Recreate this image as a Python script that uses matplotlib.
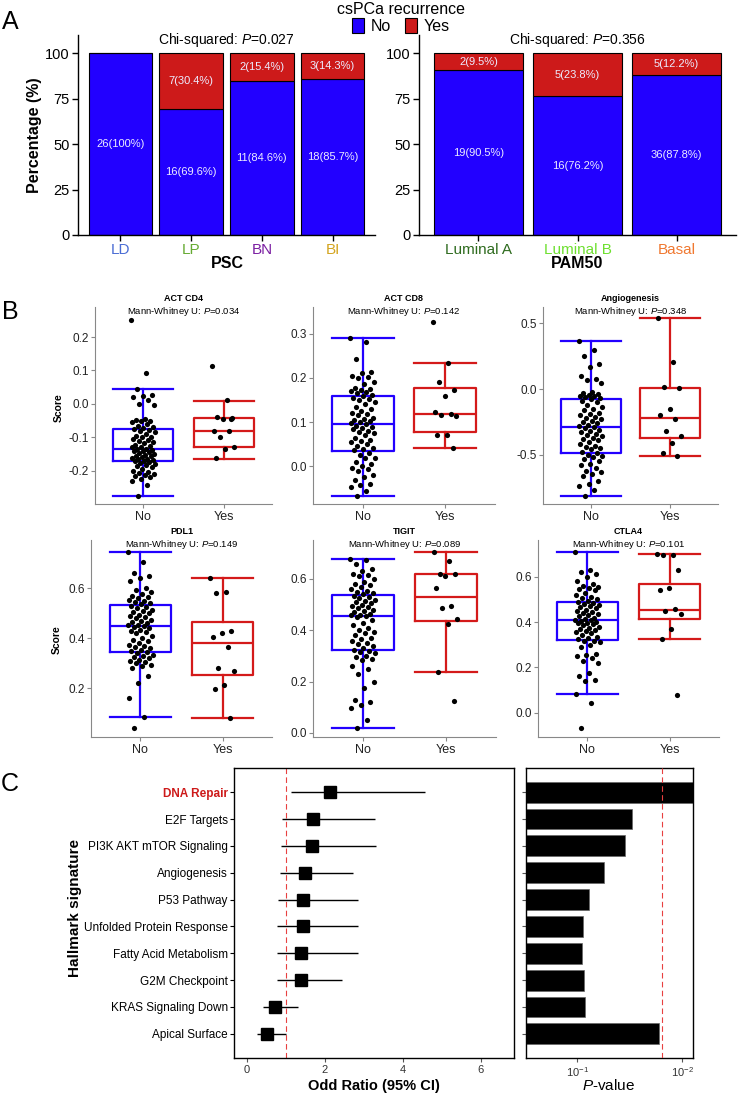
import numpy as np
import matplotlib
matplotlib.use('Agg')
import matplotlib.pyplot as plt
from matplotlib.patches import Patch
from matplotlib.ticker import NullLocator

plt.rcParams['font.family'] = ['Liberation Sans', 'DejaVu Sans']
plt.rcParams['mathtext.fontset'] = 'custom'
plt.rcParams['mathtext.rm'] = 'Liberation Sans'
plt.rcParams['mathtext.it'] = 'Liberation Sans:italic'
plt.rcParams['mathtext.bf'] = 'Liberation Sans:bold'
plt.rcParams['axes.unicode_minus'] = False

BLUE = '#2200ff'
RED = '#cd1a1a'

# ---------------- Panel A: counts by subtype ----------------
psc_groups = ['LD', 'LP', 'BN', 'BI']
psc_no = [26, 16, 11, 18]
psc_yes = [0, 7, 2, 3]
psc_colors = ['#4a6cd4', '#66aa33', '#7b1fa2', '#d4a520']
psc_p = 'Chi-squared: $P$=0.027'

pam_groups = ['Luminal A', 'Luminal B', 'Basal']
pam_no = [19, 16, 36]
pam_yes = [2, 5, 5]
pam_colors = ['#2e6b1e', '#6ee030', '#f07830']
pam_p = 'Chi-squared: $P$=0.356'

# ---------------- Panel B: scores (No n=71, Yes n=12) ----------------
# box stats: [lower whisker, Q1, median, Q3, upper whisker]
cd4_box_no = [-0.276, -0.172, -0.134, -0.074, 0.045]
cd4_box_yes = [-0.165, -0.130, -0.082, -0.043, 0.009]
cd4_no = [0.25, 0.092, 0.045, 0.025, 0.022, 0.02, 0.01, 0.0, -0.003, -0.045, -0.048, -0.05,
          -0.052, -0.055, -0.06, -0.065, -0.07, -0.072,
          -0.075, -0.078, -0.08, -0.085, -0.09, -0.095, -0.098, -0.1, -0.105, -0.108, -0.11,
          -0.115, -0.118, -0.122, -0.125, -0.128, -0.13, -0.134,
          -0.136, -0.138, -0.14, -0.142, -0.145, -0.147, -0.15, -0.152, -0.155, -0.157, -0.16,
          -0.162, -0.164, -0.166, -0.168, -0.17, -0.171,
          -0.175, -0.178, -0.18, -0.183, -0.186, -0.19, -0.195, -0.2, -0.205, -0.207, -0.21,
          -0.213, -0.215, -0.22, -0.225, -0.23, -0.242, -0.276]
cd4_yes = [0.112, 0.01, -0.04, -0.043, -0.045, -0.08, -0.082, -0.099, -0.13, -0.135, -0.163, -0.045]

cd8_box_no = [-0.067, 0.034, 0.095, 0.159, 0.290]
cd8_box_yes = [0.042, 0.077, 0.118, 0.176, 0.234]
cd8_no = [0.29, 0.28, 0.242, 0.213, 0.21, 0.205, 0.203, 0.2, 0.19, 0.185, 0.178, 0.175, 0.172,
          0.17, 0.168, 0.165, 0.162, 0.16,
          0.155, 0.152, 0.15, 0.145, 0.14, 0.135, 0.13, 0.125, 0.12, 0.118, 0.115, 0.11, 0.107,
          0.105, 0.102, 0.1, 0.098, 0.095,
          0.092, 0.09, 0.087, 0.085, 0.08, 0.078, 0.075, 0.07, 0.065, 0.06, 0.058, 0.055, 0.05,
          0.045, 0.042, 0.04, 0.037,
          0.03, 0.025, 0.02, 0.018, 0.01, 0.005, 0.0, -0.003, -0.005, -0.01, -0.02, -0.025,
          -0.03, -0.04, -0.043, -0.047, -0.055, -0.067]
cd8_yes = [0.326, 0.234, 0.19, 0.172, 0.158, 0.122, 0.118, 0.115, 0.114, 0.071, 0.07, 0.042]

ang_box_no = [-0.812, -0.487, -0.289, -0.079, 0.365]
ang_box_yes = [-0.513, -0.371, -0.218, 0.010, 0.543]
ang_no = [0.365, 0.3, 0.25, 0.19, 0.17, 0.1, 0.08, 0.07, 0.05, -0.02, -0.03, -0.04, -0.045,
          -0.05, -0.055, -0.06, -0.065, -0.075,
          -0.09, -0.1, -0.12, -0.14, -0.15, -0.16, -0.18, -0.19, -0.2, -0.21, -0.22, -0.23,
          -0.24, -0.25, -0.26, -0.27, -0.28, -0.289,
          -0.3, -0.31, -0.32, -0.33, -0.34, -0.35, -0.36, -0.37, -0.38, -0.39, -0.4, -0.42,
          -0.43, -0.44, -0.45, -0.46, -0.48,
          -0.49, -0.5, -0.51, -0.52, -0.53, -0.55, -0.57, -0.58, -0.6, -0.62, -0.63, -0.65,
          -0.66, -0.7, -0.72, -0.74, -0.77, -0.812]
ang_yes = [0.543, 0.206, 0.013, 0.005, -0.15, -0.198, -0.231, -0.32, -0.355, -0.414, -0.485, -0.513]

pdl1_box_no = [0.087, 0.347, 0.449, 0.535, 0.744]
pdl1_box_yes = [0.080, 0.255, 0.383, 0.467, 0.640]
pdl1_no = [0.744, 0.705, 0.66, 0.65, 0.64, 0.63, 0.6, 0.595, 0.585, 0.578, 0.57, 0.565, 0.56,
           0.555, 0.55, 0.545, 0.54, 0.537,
           0.53, 0.525, 0.52, 0.515, 0.51, 0.505, 0.5, 0.495, 0.49, 0.485, 0.48, 0.475, 0.47,
           0.465, 0.46, 0.455, 0.452, 0.449,
           0.445, 0.44, 0.435, 0.43, 0.425, 0.42, 0.41, 0.4, 0.395, 0.39, 0.38, 0.375, 0.37,
           0.365, 0.36, 0.355, 0.35,
           0.345, 0.34, 0.335, 0.33, 0.325, 0.32, 0.315, 0.31, 0.305, 0.3, 0.295, 0.29, 0.28,
           0.25, 0.22, 0.16, 0.087, 0.04]
pdl1_yes = [0.64, 0.585, 0.583, 0.428, 0.42, 0.405, 0.365, 0.283, 0.269, 0.213, 0.199, 0.08]

tigit_box_no = [0.018, 0.322, 0.456, 0.538, 0.677]
tigit_box_yes = [0.238, 0.435, 0.530, 0.619, 0.704]
tigit_no = [0.677, 0.675, 0.66, 0.64, 0.63, 0.62, 0.615, 0.61, 0.6, 0.59, 0.58, 0.575, 0.57,
            0.56, 0.555, 0.55, 0.545, 0.54,
            0.535, 0.53, 0.525, 0.52, 0.515, 0.51, 0.505, 0.5, 0.495, 0.49, 0.485, 0.48, 0.475,
            0.47, 0.465, 0.46, 0.458, 0.456,
            0.45, 0.44, 0.43, 0.42, 0.41, 0.4, 0.395, 0.39, 0.38, 0.37, 0.365, 0.36, 0.35,
            0.345, 0.34, 0.33, 0.325,
            0.32, 0.315, 0.31, 0.3, 0.295, 0.29, 0.285, 0.26, 0.25, 0.23, 0.2, 0.174, 0.128,
            0.122, 0.11, 0.096, 0.05, 0.018]
tigit_yes = [0.704, 0.671, 0.62, 0.618, 0.61, 0.566, 0.496, 0.488, 0.443, 0.426, 0.238, 0.126]

ctla4_box_no = [0.084, 0.320, 0.407, 0.490, 0.710]
ctla4_box_yes = [0.324, 0.415, 0.453, 0.566, 0.699]
ctla4_no = [0.71, 0.63, 0.62, 0.61, 0.6, 0.58, 0.57, 0.56, 0.555, 0.55, 0.545, 0.54, 0.53,
            0.52, 0.51, 0.505, 0.5, 0.495,
            0.488, 0.485, 0.48, 0.475, 0.47, 0.465, 0.46, 0.455, 0.45, 0.445, 0.44, 0.435, 0.43,
            0.425, 0.42, 0.415, 0.41, 0.407,
            0.405, 0.4, 0.398, 0.395, 0.39, 0.385, 0.38, 0.375, 0.37, 0.365, 0.36, 0.355, 0.35,
            0.345, 0.335, 0.33, 0.325,
            0.318, 0.315, 0.31, 0.3, 0.29, 0.26, 0.255, 0.25, 0.24, 0.23, 0.22, 0.175, 0.16,
            0.145, 0.14, 0.084, 0.044, -0.069]
ctla4_yes = [0.699, 0.696, 0.694, 0.629, 0.549, 0.54, 0.457, 0.447, 0.434, 0.368, 0.324, 0.078]

# ---------------- Panel C: hallmark signatures ----------------
signatures = ['DNA Repair', 'E2F Targets', 'PI3K AKT mTOR Signaling', 'Angiogenesis',
              'P53 Pathway', 'Unfolded Protein Response', 'Fatty Acid Metabolism',
              'G2M Checkpoint', 'KRAS Signaling Down', 'Apical Surface']
odds = [2.13, 1.69, 1.67, 1.50, 1.44, 1.43, 1.40, 1.38, 0.72, 0.52]
ci_low = [1.13, 0.90, 0.87, 0.85, 0.80, 0.78, 0.78, 0.78, 0.42, 0.25]
ci_high = [4.56, 3.28, 3.30, 2.73, 2.84, 2.86, 2.84, 2.45, 1.30, 1.00]
pvals = [0.0079, 0.0303, 0.0351, 0.0561, 0.0769, 0.0877, 0.0902, 0.0857, 0.0839, 0.0166]
p_cut = 0.0155

W, H = 740, 1095
fig = plt.figure(figsize=(W / 100, H / 100), dpi=100)


def add_ax(l, t, r, b):
    return fig.add_axes([l / W, 1 - b / H, (r - l) / W, (b - t) / H])


def ftext(x, y, s, **kw):
    fig.text(x / W, 1 - y / H, s, **kw)


def pct_label(n, p):
    return f"{n}({round(p, 1):g}%)"


def stacked(ax, groups, no, yes, colors, ptext):
    no = np.array(no)
    yes = np.array(yes)
    tot = no + yes
    pno = no / tot * 100
    pyes = yes / tot * 100
    x = np.arange(1, len(groups) + 1)
    ax.bar(x, pno, 0.9, color=BLUE, edgecolor='black', linewidth=0.8)
    ax.bar(x, pyes, 0.9, bottom=pno, color=RED, edgecolor='black', linewidth=0.8)
    for xi, n, p in zip(x, no, pno):
        ax.text(xi, p / 2, pct_label(n, p), color='#ececff', ha='center', va='center', fontsize=8)
    for xi, n, p, b in zip(x, yes, pyes, pno):
        if n > 0:
            ax.text(xi, b + p / 2, pct_label(n, p), color='#ececff', ha='center', va='center', fontsize=8)
    ax.set_xlim(0.4, len(groups) + 0.6)
    ax.set_ylim(0, 110)
    ax.set_yticks([0, 25, 50, 75, 100])
    ax.set_xticks(x)
    ax.set_xticklabels(groups, fontsize=11)
    for lab, c in zip(ax.get_xticklabels(), colors):
        lab.set_color(c)
    ax.tick_params(axis='y', labelsize=10.5, length=4, width=1, pad=2)
    ax.tick_params(axis='x', length=4, width=1, pad=2)
    for s in ['top', 'right']:
        ax.spines[s].set_visible(False)
    for s in ['left', 'bottom']:
        ax.spines[s].set_linewidth(1.0)
    ax.text((len(groups) + 1) / 2, 107, ptext, ha='center', va='center', fontsize=10)


axA1 = add_ax(78, 35, 375, 235)
stacked(axA1, psc_groups, psc_no, psc_yes, psc_colors, psc_p)
axA2 = add_ax(419, 35, 736, 235)
stacked(axA2, pam_groups, pam_no, pam_yes, pam_colors, pam_p)
ftext(34, 135, 'Percentage (%)', rotation=90, ha='center', va='center', fontsize=11.5, fontweight='bold')
ftext(227, 264, 'PSC', ha='center', va='center', fontsize=11.5, fontweight='bold')
ftext(577, 264, 'PAM50', ha='center', va='center', fontsize=11.5, fontweight='bold')

fig.legend(handles=[Patch(facecolor=BLUE, edgecolor='black', linewidth=0.8),
                    Patch(facecolor=RED, edgecolor='black', linewidth=0.8)],
           labels=['No', 'Yes'], title='csPCa recurrence', ncol=2, loc='upper center',
           bbox_to_anchor=(401 / W, 0.999), frameon=False, fontsize=11.5, title_fontsize=11.5,
           handlelength=0.75, handleheight=1.0, handletextpad=0.4, columnspacing=0.9,
           borderaxespad=0, borderpad=0.05, labelspacing=0.1)


# ---------------- Panel B ----------------
def boxpanel(ax, no_pts, yes_pts, box_no, box_yes, title, ptext, ylim, yticks):
    for i, (s, c) in enumerate([(box_no, BLUE), (box_yes, '#d41a1a')]):
        st = dict(whislo=s[0], q1=s[1], med=s[2], q3=s[3], whishi=s[4])
        lp = dict(color=c, linewidth=1.6)
        ax.bxp([st], positions=[i + 1], widths=0.75, capwidths=0.75, showfliers=False,
               boxprops=lp, whiskerprops=lp, capprops=lp, medianprops=lp)
    for i, pts in enumerate([no_pts, yes_pts]):
        pts = np.array(pts)
        off = (((np.arange(len(pts)) * 0.6180339) % 1) - 0.5) * 0.3
        ax.scatter(i + 1 + off, pts, s=14, color='black', linewidths=0, zorder=4)
    ax.set_xlim(0.4, 2.6)
    ax.set_ylim(*ylim)
    ax.set_yticks(yticks)
    ax.set_yticklabels([f'{t:.1f}' for t in yticks])
    ax.set_xticks([1, 2])
    ax.set_xticklabels(['No', 'Yes'])
    ax.tick_params(axis='y', labelsize=8.5, length=3, color='#888888', labelcolor='#222222', pad=1.5)
    ax.tick_params(axis='x', labelsize=9, length=3, color='#888888', labelcolor='#222222', pad=2)
    for s in ['top', 'right']:
        ax.spines[s].set_visible(False)
    for s in ['left', 'bottom']:
        ax.spines[s].set_color('#888888')
        ax.spines[s].set_linewidth(0.8)
    ax.text(0.5, 0.978, ptext, transform=ax.transAxes, ha='center', va='center', fontsize=6.8)
    ax.text(0.5, 1.045, title, transform=ax.transAxes, ha='center', va='center', fontsize=6.5,
            fontweight='bold')


mw = 'Mann-Whitney U: $P$='
axB = [add_ax(95, 307, 272, 504), add_ax(313, 307, 495, 504), add_ax(543, 307, 718, 504),
       add_ax(91, 540, 272, 737), add_ax(313, 540, 496, 737), add_ax(538, 540, 719, 737)]
boxpanel(axB[0], cd4_no, cd4_yes, cd4_box_no, cd4_box_yes, 'ACT CD4', mw + '0.034',
         (-0.30, 0.29), [-0.2, -0.1, 0.0, 0.1, 0.2])
boxpanel(axB[1], cd8_no, cd8_yes, cd8_box_no, cd8_box_yes, 'ACT CD8', mw + '0.142',
         (-0.085, 0.36), [0.0, 0.1, 0.2, 0.3])
boxpanel(axB[2], ang_no, ang_yes, ang_box_no, ang_box_yes, 'Angiogenesis', mw + '0.348',
         (-0.875, 0.625), [-0.5, 0.0, 0.5])
boxpanel(axB[3], pdl1_no, pdl1_yes, pdl1_box_no, pdl1_box_yes, 'PDL1', mw + '0.149',
         (0.005, 0.793), [0.2, 0.4, 0.6])
boxpanel(axB[4], tigit_no, tigit_yes, tigit_box_no, tigit_box_yes, 'TIGIT', mw + '0.089',
         (-0.016, 0.752), [0.0, 0.2, 0.4, 0.6])
boxpanel(axB[5], ctla4_no, ctla4_yes, ctla4_box_no, ctla4_box_yes, 'CTLA4', mw + '0.101',
         (-0.107, 0.762), [0.0, 0.2, 0.4, 0.6])
ftext(59, 408, 'Score', rotation=90, ha='center', va='center', fontsize=7.5, fontweight='bold')
ftext(57, 640, 'Score', rotation=90, ha='center', va='center', fontsize=7.5, fontweight='bold')

# ---------------- Panel C ----------------
n = len(signatures)
ypos = np.arange(n, 0, -1)
axC1 = add_ax(234, 768, 514, 1058)
axC1.axvline(1, color='#e84040', linestyle=(0, (5, 3)), linewidth=0.8, zorder=1)
axC1.hlines(ypos, ci_low, ci_high, color='black', linewidth=1.0, zorder=2)
axC1.plot(odds, ypos, 's', color='black', markersize=8, zorder=3)
axC1.set_xlim(-0.33, 6.85)
axC1.set_ylim(0.1, n + 0.9)
axC1.set_xticks([0, 2, 4, 6])
axC1.set_yticks(ypos)
axC1.set_yticklabels(signatures)
axC1.tick_params(axis='y', labelsize=8.5, length=3, pad=1.5)
axC1.tick_params(axis='x', labelsize=8, length=3, pad=2, color='#555555', labelcolor='#333333')
lab0 = axC1.get_yticklabels()[0]
lab0.set_color(RED)
lab0.set_fontweight('bold')
for s in axC1.spines.values():
    s.set_linewidth(1.0)

axC2 = add_ax(526, 768, 693, 1058)
axC2.set_xscale('log')
axC2.barh(ypos, np.ones(n) - np.array(pvals), left=pvals, height=0.78, color='black',
          edgecolor='#666666', linewidth=0.5, zorder=2)
axC2.axvline(p_cut, color='#e84040', linestyle=(0, (5, 3)), linewidth=0.8, zorder=3)
axC2.set_xlim(0.31, 0.00785)
axC2.set_ylim(0.1, n + 0.9)
axC2.set_xticks([0.1, 0.01])
axC2.set_xticklabels(['$10^{-1}$', '$10^{-2}$'])
axC2.xaxis.set_minor_locator(NullLocator())
axC2.set_yticks(ypos)
axC2.set_yticklabels([])
axC2.tick_params(axis='y', length=3, color='#555555')
axC2.tick_params(axis='x', labelsize=8, length=3, pad=2, color='#555555', labelcolor='#333333')
for s in axC2.spines.values():
    s.set_linewidth(1.0)

ftext(75, 908, 'Hallmark signature', rotation=90, ha='center', va='center', fontsize=11,
      fontweight='bold')
ftext(374, 1086, 'Odd Ratio (95% CI)', ha='center', va='center', fontsize=10.5, fontweight='bold')
ftext(609, 1085, '$P$-value', ha='center', va='center', fontsize=11)

# panel letters
ftext(10, 22, 'A', ha='center', va='center', fontsize=18)
ftext(10, 312, 'B', ha='center', va='center', fontsize=18)
ftext(10, 784, 'C', ha='center', va='center', fontsize=18)

fig.savefig('out.png', dpi=100)
